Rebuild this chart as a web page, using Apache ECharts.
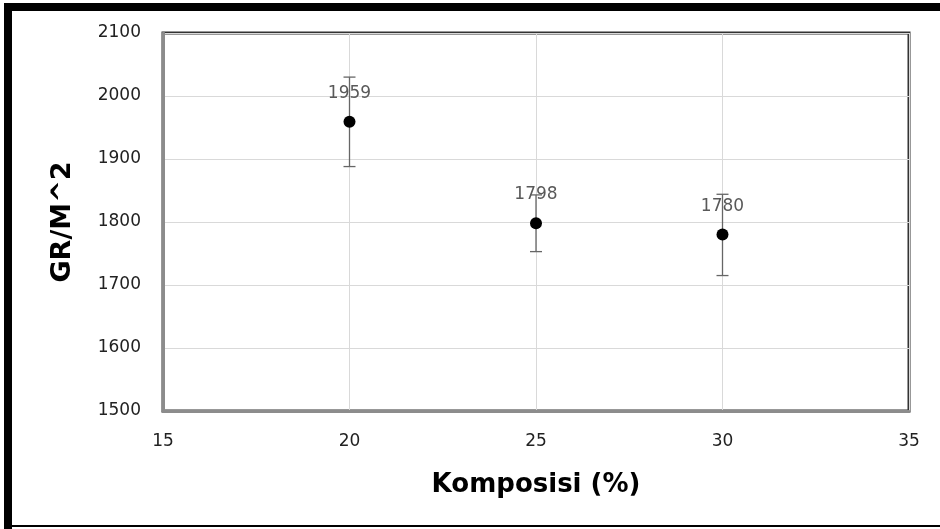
<!DOCTYPE html>
<html><head><meta charset="utf-8">
<script src="https://cdn.jsdelivr.net/npm/echarts@6/dist/echarts.min.js"></script>
<style>html,body{margin:0;padding:0;background:#fff}#c{width:940px;height:529px}</style>
</head><body><div id="c"></div>
<script>
const xValues = [20, 25, 30];
const yValues = [1959, 1798, 1780];
const errLow = [1888, 1753, 1715];
const errHigh = [2030, 1843, 1844];
const xTicks = [15, 20, 25, 30, 35];
const yTicks = [1500, 1600, 1700, 1800, 1900, 2000, 2100];
const xTitle = 'Komposisi (%)';
const yTitle = 'GR/M^2';

const chart = echarts.init(document.getElementById('c'));
const pts = xValues.map((x, i) => [x, yValues[i]]);
const errs = xValues.map((x, i) => [x, errLow[i], errHigh[i]]);

chart.setOption({
  animation: false,
  backgroundColor: '#fff',
  grid: { left: 163, right: 31, top: 33, bottom: 118, show: true, borderColor: '#333', borderWidth: 3, backgroundColor: 'transparent' },
  xAxis: {
    type: 'value', min: xTicks[0], max: xTicks[xTicks.length - 1], interval: 5,
    name: xTitle, nameLocation: 'middle', nameGap: 61,
    nameTextStyle: { fontFamily: 'DejaVu Sans', fontWeight: 'bold', fontSize: 26, color: '#000' },
    axisLine: { show: true, lineStyle: { color: '#8c8c8c', width: 3 } },
    axisTick: { show: false },
    axisLabel: { fontFamily: 'DejaVu Sans', fontSize: 17, color: '#222', margin: 22, formatter: v => String(v) },
    splitLine: { show: true, lineStyle: { color: '#d9d9d9', width: 1 } }
  },
  yAxis: {
    type: 'value', min: yTicks[0], max: yTicks[yTicks.length - 1], interval: 100,
    axisLine: { show: true, lineStyle: { color: '#8c8c8c', width: 3 } },
    axisTick: { show: false },
    axisLabel: { fontFamily: 'DejaVu Sans', fontSize: 17, color: '#222', margin: 22, formatter: v => String(v) },
    splitLine: { show: true, lineStyle: { color: '#d9d9d9', width: 1 } }
  },
  series: [
    {
      type: 'custom',
      data: errs,
      z: 3,
      renderItem: function (params, api) {
        const x = api.value(0);
        const lo = api.coord([x, api.value(1)]);
        const hi = api.coord([x, api.value(2)]);
        const w = 6;
        const st = { stroke: '#666', lineWidth: 1.3 };
        return {
          type: 'group',
          children: [
            { type: 'line', shape: { x1: lo[0], y1: lo[1], x2: hi[0], y2: hi[1] }, style: st },
            { type: 'line', shape: { x1: lo[0] - w, y1: lo[1], x2: lo[0] + w, y2: lo[1] }, style: st },
            { type: 'line', shape: { x1: hi[0] - w, y1: hi[1], x2: hi[0] + w, y2: hi[1] }, style: st }
          ]
        };
      }
    },
    {
      type: 'scatter',
      data: pts,
      z: 4,
      symbol: 'circle',
      symbolSize: 12,
      itemStyle: { color: '#000', opacity: 1 },
      label: {
        show: true, position: 'top', distance: 14,
        formatter: p => String(p.value[1]),
        fontFamily: 'DejaVu Sans', fontSize: 17, color: '#595959'
      }
    }
  ],
  graphic: [
    { type: 'rect', shape: { x: 4, y: 3, width: 8, height: 526 }, style: { fill: '#000' } },
    { type: 'rect', shape: { x: 4, y: 3, width: 936, height: 8 }, style: { fill: '#000' } },
    { type: 'rect', shape: { x: 4, y: 525, width: 936, height: 2 }, style: { fill: '#000' } },
    { type: 'text', x: 63, y: 222, rotation: Math.PI / 2,
      style: { text: yTitle, fontFamily: 'DejaVu Sans', fontWeight: 'bold', fontSize: 27, fill: '#000', align: 'center', verticalAlign: 'middle' } }
  ]
});
</script>
</body></html>
